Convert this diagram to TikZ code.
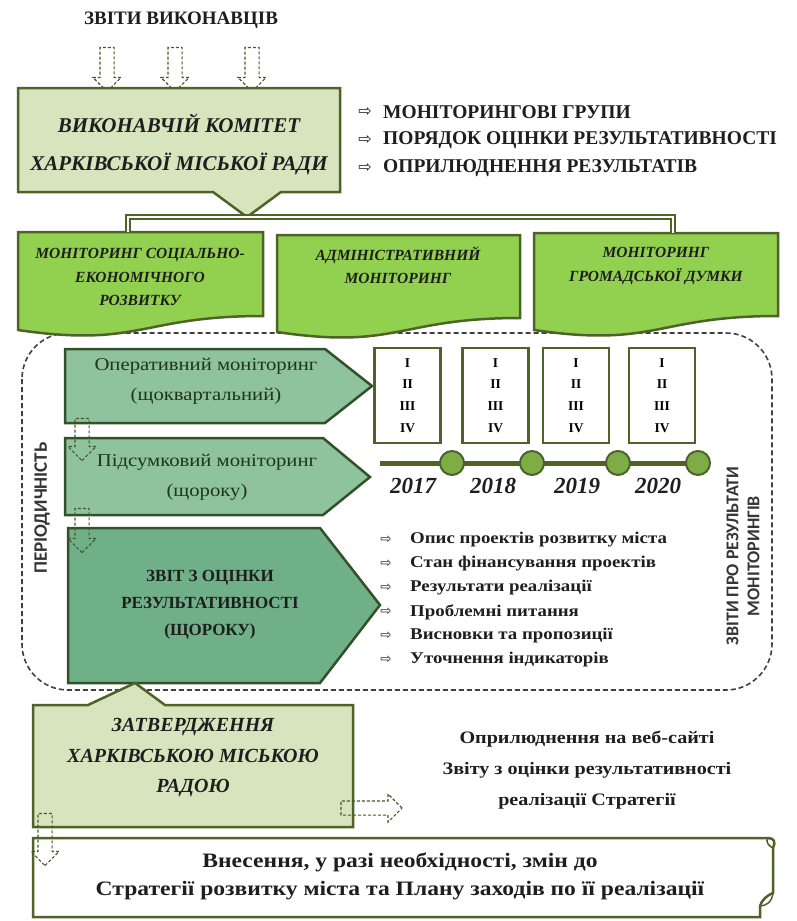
\documentclass[tikz,border=0pt]{standalone}
\usepackage{fontspec}
\setmainfont{Liberation Serif}
\newfontfamily\wideserif{Liberation Serif}[FakeStretch=1.15]
\newfontfamily\calfont{Carlito}
\newfontfamily\symfont{DejaVu Sans}
\usetikzlibrary{shapes.arrows}

\definecolor{olivefill}{HTML}{D7E4BD}
\definecolor{olivedraw}{HTML}{4F6228}
\definecolor{docgreen}{HTML}{92D050}
\definecolor{stagefill}{HTML}{8FC39E}
\definecolor{reportfill}{HTML}{6FB088}
\definecolor{stagedraw}{HTML}{34502A}
\definecolor{dotgreen}{HTML}{7DAE45}
\definecolor{darktext}{HTML}{1E1E1E}
\definecolor{stagetext}{HTML}{1F351B}

\begin{document}
\begin{tikzpicture}[x=1pt, y=-1pt,
  hollow/.style={single arrow, draw=olivedraw!90!black, dash pattern=on 3pt off 2pt, line width=1.1pt,
    inner sep=6.5pt, minimum width=27pt, single arrow head extend=7pt, minimum height=#1},
  olivebox/.style={draw=olivedraw, fill=olivefill, line width=2.5pt},
  docbox/.style={draw=olivedraw, fill=docgreen, line width=2.5pt},
  stage/.style={draw=stagedraw, fill=stagefill, line width=2.5pt},
  yearbox/.style={draw=olivedraw, fill=white, line width=2.5pt, minimum width=66pt,
    minimum height=95pt, align=center, font=\bfseries\fontsize{13.5}{21.7}\selectfont},
  dot/.style={circle, draw=olivedraw, fill=dotgreen, line width=2pt, minimum size=24pt, inner sep=0pt},
  bracket/.style={draw=olivedraw, line width=2pt, double=white, double distance=2pt},
  sym/.style={font=\symfont\fontsize{16}{16}\selectfont, text=darktext, inner sep=0pt},
  toplist/.style={anchor=west, inner sep=0pt, text=darktext, font=\bfseries\fontsize{19.5}{19.5}\selectfont},
  sublist/.style={anchor=west, inner sep=0pt, text=darktext, font=\wideserif\bfseries\fontsize{16.4}{16.4}\selectfont},
  bigit/.style={align=center, text=darktext, font=\bfseries\itshape\fontsize{21}{38}\selectfont},
  docit/.style={align=center, text=darktext, font=\bfseries\itshape\fontsize{15.5}{23.5}\selectfont},
  stagetxt/.style={align=center, text=stagetext, font=\wideserif\fontsize{18}{30}\selectfont},
  vlabel/.style={align=center, text=darktext!90, font=\calfont\bfseries\fontsize{19}{20}\selectfont}
]
\useasboundingbox (0,0) rectangle (796,921);

\node[text=darktext, font=\bfseries\fontsize{19}{19}\selectfont] (reports) at (181,20) {ЗВІТИ ВИКОНАВЦІВ};
\foreach \x [count=\i] in {107,175,252}
  \node[hollow=44pt, shape border rotate=270] (in\i) at (\x,66) {};

\draw[olivebox] (18,88) -- (340,88) -- (340,192) -- (281,192) -- (247,217) -- (213,192) -- (18,192) -- cycle;
\node[bigit] (committee) at (179,144) {ВИКОНАВЧІЙ КОМІТЕТ\\ХАРКІВСЬКОЇ МІСЬКОЇ РАДИ};
\coordinate (committee tip) at (247,217);

\foreach \t [count=\i] in {МОНІТОРИНГОВІ ГРУПИ, ПОРЯДОК ОЦІНКИ РЕЗУЛЬТАТИВНОСТІ, ОПРИЛЮДНЕННЯ РЕЗУЛЬТАТІВ} {
  \node[toplist] (task\i) at (383,{84+28*\i}) {\t};
  \node[sym] at ([xshift=-18pt]task\i.west) {⇨};
}

\draw[dash pattern=on 5pt off 3pt, line width=1.6pt, draw=black!75, rounded corners=46pt] (22,333) rectangle (772,690);

\draw[docbox] (18,232) -- (263,232) -- (263,316) .. controls (140,316) and (140,348) .. (18,330) -- cycle;
\node[docit] (social) at (140,277) {МОНІТОРИНГ СОЦІАЛЬНО-\\ЕКОНОМІЧНОГО\\РОЗВИТКУ};
\draw[docbox] (277,235) -- (520,235) -- (520,318) .. controls (398,318) and (398,350) .. (277,332) -- cycle;
\node[docit] (admin) at (398,265) {АДМІНІСТРАТИВНИЙ\\МОНІТОРИНГ};
\draw[docbox] (534,233) -- (778,233) -- (778,316) .. controls (656,316) and (656,348) .. (534,330) -- cycle;
\node[docit] (public) at (656,266) {МОНІТОРИНГ\\ГРОМАДСЬКОЇ ДУМКИ};

\coordinate (social top) at (128,232);
\coordinate (public top) at (673,233);
\draw[bracket] (social top) |- (committee tip) -| (public top);

\draw[stage] (65,349) -- (325,349) -- (372,386) -- (325,423) -- (65,423) -- cycle;
\node[stagetxt] (operative) at (206,381) {Оперативний моніторинг\\(щоквартальний)};
\draw[stage] (65,438) -- (323,438) -- (370,477) -- (323,515) -- (65,515) -- cycle;
\node[stagetxt] (summary) at (207,477) {Підсумковий моніторинг\\(щороку)};
\draw[stage, fill=reportfill] (68,528) -- (320,528) -- (380,605) -- (320,683) -- (68,683) -- cycle;
\node[align=center, text=darktext, font=\bfseries\fontsize{17}{27}\selectfont] (report) at (210,605) {ЗВІТ З ОЦІНКИ\\РЕЗУЛЬТАТИВНОСТІ\\(ЩОРОКУ)};

\node[hollow=42pt, shape border rotate=270] (step1) at (82,436) {};
\node[hollow=44pt, shape border rotate=270] (step2) at (82,527) {};

\foreach \x/\yr in {407.5/2017, 495.5/2018, 576/2019, 662/2020}
  \node[yearbox] (q\yr) at (\x,395.5) {I\\II\\III\\IV};

\coordinate (line start) at (380,463);
\draw[draw=olivedraw, line width=5pt] (line start) -- (698,463);
\foreach \x [count=\i] in {452,532,618,698}
  \node[dot] (d\i) at (\x,463) {};
\foreach \x/\yr in {413/2017, 493/2018, 577/2019, 658/2020}
  \node[text=darktext, font=\bfseries\itshape\fontsize{23}{23}\selectfont] (y\yr) at (\x,486) {\yr};

\foreach \t [count=\i] in {Опис проектів розвитку міста, Стан фінансування проектів, Результати реалізації, Проблемні питання, Висновки та пропозиції, Уточнення індикаторів} {
  \node[sublist] (item\i) at (410,{516+24*\i}) {\t};
  \node[sym, font=\symfont\fontsize{13.5}{13.5}\selectfont] at ([xshift=-24pt]item\i.west) {⇨};
}

\node[vlabel, rotate=90] (period) at (42,508) {ПЕРІОДИЧНІСТЬ};
\node[vlabel, rotate=90, font=\calfont\bfseries\fontsize{18}{21}\selectfont] (results) at (743,556) {ЗВІТИ ПРО РЕЗУЛЬТАТИ\\МОНІТОРИНГІВ};

\draw[olivebox] (33,705) -- (88,705) -- (135,683) -- (165,705) -- (353,705) -- (353,827) -- (33,827) -- cycle;
\node[bigit, font=\bfseries\itshape\fontsize{20}{30.5}\selectfont] (approval) at (193,758) {ЗАТВЕРДЖЕННЯ\\ХАРКІВСЬКОЮ МІСЬКОЮ\\РАДОЮ};

\node[align=center, text=darktext, font=\wideserif\bfseries\fontsize{17.5}{31}\selectfont] (website) at (587,770) {Оприлюднення на веб-сайті\\Звіту з оцінки результативності\\реалізації Стратегії};

\draw[draw=olivedraw, fill=white, line width=2.5pt] (33,838) -- (768,838) .. controls (774,838) and (776,842) .. (773,848) -- (773,893) .. controls (766,896) and (762,900) .. (760,906) -- (760,917) -- (33,917) -- cycle;
\draw[draw=olivedraw, line width=1.5pt] (768,838) .. controls (765,842) and (769,846) .. (773,848);
\draw[draw=olivedraw, line width=1.5pt] (773,893) .. controls (772,902) and (766,906) .. (760,906);
\node[align=center, text=darktext, font=\wideserif\bfseries\fontsize{20.5}{28}\selectfont] (changes) at (400,876) {Внесення, у разі необхідності, змін до\\Стратегії розвитку міста та Плану заходів по її реалізації};

\node[hollow=52pt, shape border rotate=270] (down) at (45,836) {};
\node[hollow=61pt] (right) at (368,808) {};

\end{tikzpicture}
\end{document}
